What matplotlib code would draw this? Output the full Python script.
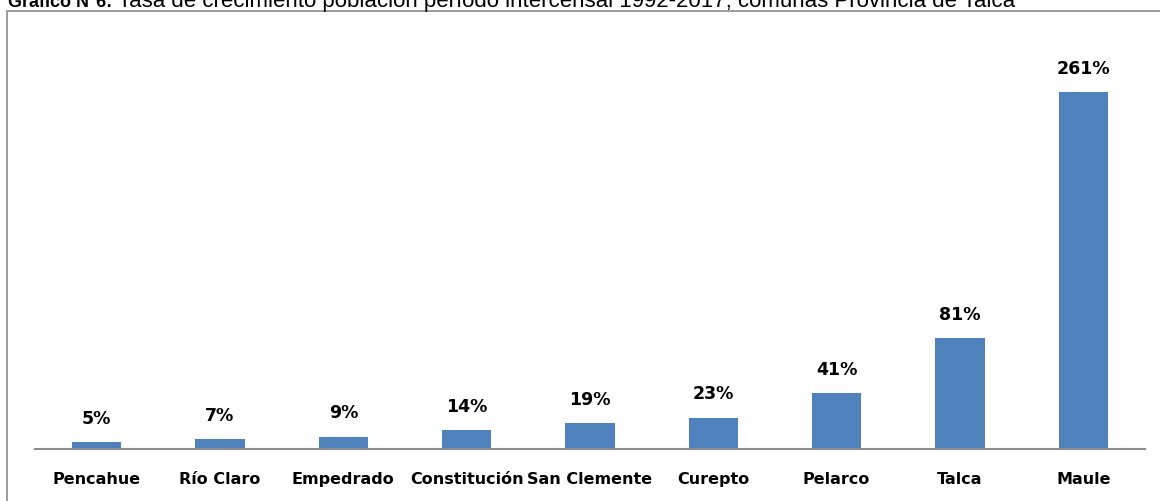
import matplotlib.pyplot as plt
from matplotlib.patches import Rectangle

comunas = ["Pencahue", "Río Claro", "Empedrado", "Constitución", "San Clemente",
           "Curepto", "Pelarco", "Talca", "Maule"]
tasas = [5, 7, 9, 14, 19, 23, 41, 81, 261]
etiquetas = [f"{t}%" for t in tasas]

W, H = 1160, 502
fig = plt.figure(figsize=(W / 100, H / 100), dpi=100)

# marco gris del gráfico (se sale por la derecha y abajo)
fig.patches.append(Rectangle((7 / W, -0.1), 1.2, 1 - 12 / H + 0.1,
                             transform=fig.transFigure, fill=False,
                             edgecolor="#8c8c8c", linewidth=1.2))

# título, cortado arriba como en la imagen original
ty = 1 - 7 / H
fig.text(8 / W, ty, "Gráfico N°6:", fontsize=13, fontweight="bold",
         family="Liberation Sans", va="baseline", ha="left")
fig.text(118 / W, ty,
         "Tasa de crecimiento población período intercensal 1992-2017, comunas Provincia de Talca",
         fontsize=16, family="Liberation Sans", va="baseline", ha="left")

ax = fig.add_axes([35 / W, 1 - 450 / H, 1110 / W, 430 / H])
x = range(len(comunas))
ax.bar(x, tasas, width=0.4, color="#4f81bd", zorder=2)
ax.set_xlim(-0.5, len(comunas) - 0.5)
ax.set_ylim(0, 430 / 1.368)

for xi, v, lab in zip(x, tasas, etiquetas):
    ax.annotate(lab, (xi, v), xytext=(0, 11), textcoords="offset points",
                ha="center", va="bottom", fontsize=12.5, fontweight="bold",
                family="DejaVu Sans")

for s in ["top", "right", "left"]:
    ax.spines[s].set_visible(False)
ax.spines["bottom"].set_color("#8c8c8c")
ax.spines["bottom"].set_linewidth(1.5)
ax.set_yticks([])
ax.set_xticks(list(x))
ax.set_xticklabels(comunas, fontsize=11.5, fontweight="bold", family="DejaVu Sans")
ax.tick_params(axis="x", length=0, pad=16)

fig.savefig("out.png", dpi=100)
